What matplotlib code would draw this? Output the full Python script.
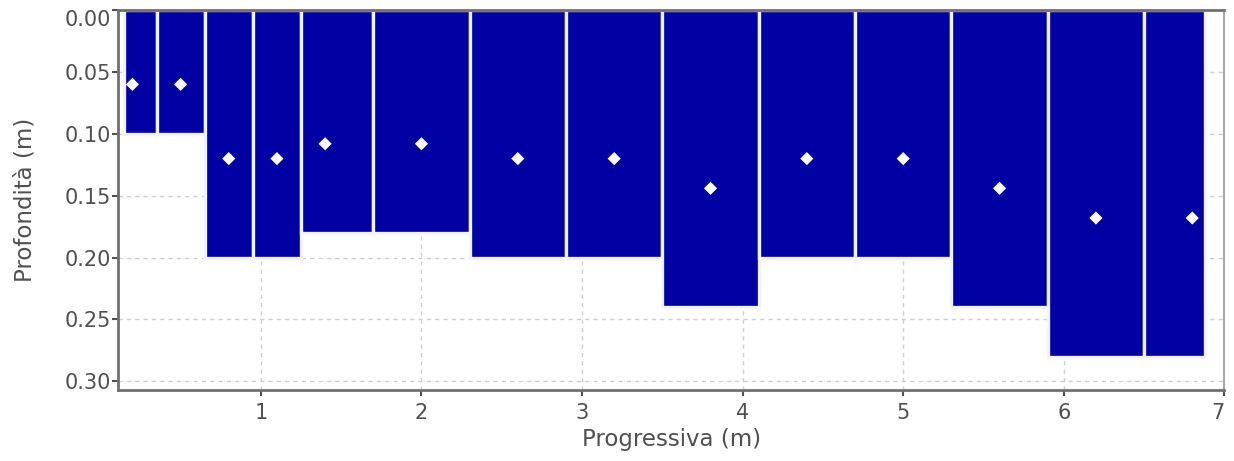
import matplotlib
matplotlib.use("Agg")
import matplotlib.pyplot as plt

# %%
# segment boundaries along the section (m)
left_edges = [0.15, 0.35, 0.65, 0.95, 1.25, 1.70, 2.30, 2.90, 3.50, 4.10, 4.70, 5.30, 5.90, 6.50]
right_edges = [0.35, 0.65, 0.95, 1.25, 1.70, 2.30, 2.90, 3.50, 4.10, 4.70, 5.30, 5.90, 6.50, 6.88]
depth = [0.10, 0.10, 0.20, 0.20, 0.18, 0.18, 0.20, 0.20, 0.24, 0.20, 0.20, 0.24, 0.28, 0.28]

# measurement points
point_x = [0.2, 0.5, 0.8, 1.1, 1.4, 2.0, 2.6, 3.2, 3.8, 4.4, 5.0, 5.6, 6.2, 6.8]
point_depth = [0.06, 0.06, 0.12, 0.12, 0.108, 0.108, 0.12, 0.12, 0.144, 0.12, 0.12, 0.144, 0.168, 0.168]

yticks = [0.00, 0.05, 0.10, 0.15, 0.20, 0.25, 0.30]
xticks = [1, 2, 3, 4, 5, 6, 7]

# %%
fig = plt.figure(figsize=(12.34, 4.61), dpi=100)
ax = fig.add_axes([0.0956, 0.154, 0.8966, 0.824])

widths = [r - l for l, r in zip(left_edges, right_edges)]
ax.bar(left_edges, depth, width=widths, bottom=0, align="edge",
       color="#0000A3", edgecolor="#F2F3FF", linewidth=2.4, zorder=2)
ax.scatter(point_x, point_depth, marker="D", s=45, color="white",
           edgecolors="none", zorder=3)

ax.set_xlim(0.11, 7.0)
ax.set_ylim(0.307, 0.0)
ax.set_xticks(xticks)
ax.set_yticks(yticks)
ax.set_yticklabels([f"{v:.2f}" for v in yticks])

ax.grid(True, linestyle=(0, (3, 3)), color="#CFCFCF", linewidth=1.0, zorder=0)
ax.set_axisbelow(True)

for side in ["left", "bottom", "top"]:
    ax.spines[side].set_color("#707070")
    ax.spines[side].set_linewidth(2.0)
ax.spines["right"].set_color("#A8A8A8")
ax.spines["right"].set_linewidth(1.5)

ax.tick_params(axis="both", colors="#505050", labelsize=15, length=4, width=1.5)
ax.tick_params(axis="y", pad=1)
ax.tick_params(axis="x", pad=5)
ax.get_yticklabels()[0].set_va("top")
ax.get_xticklabels()[-1].set_ha("right")

ax.set_xlabel("Progressiva (m)", fontsize=16.5, color="#505050", labelpad=4)
ax.set_ylabel("Profondità (m)", fontsize=16.5, color="#505050", labelpad=20)

fig.savefig("out.png", dpi=100)
